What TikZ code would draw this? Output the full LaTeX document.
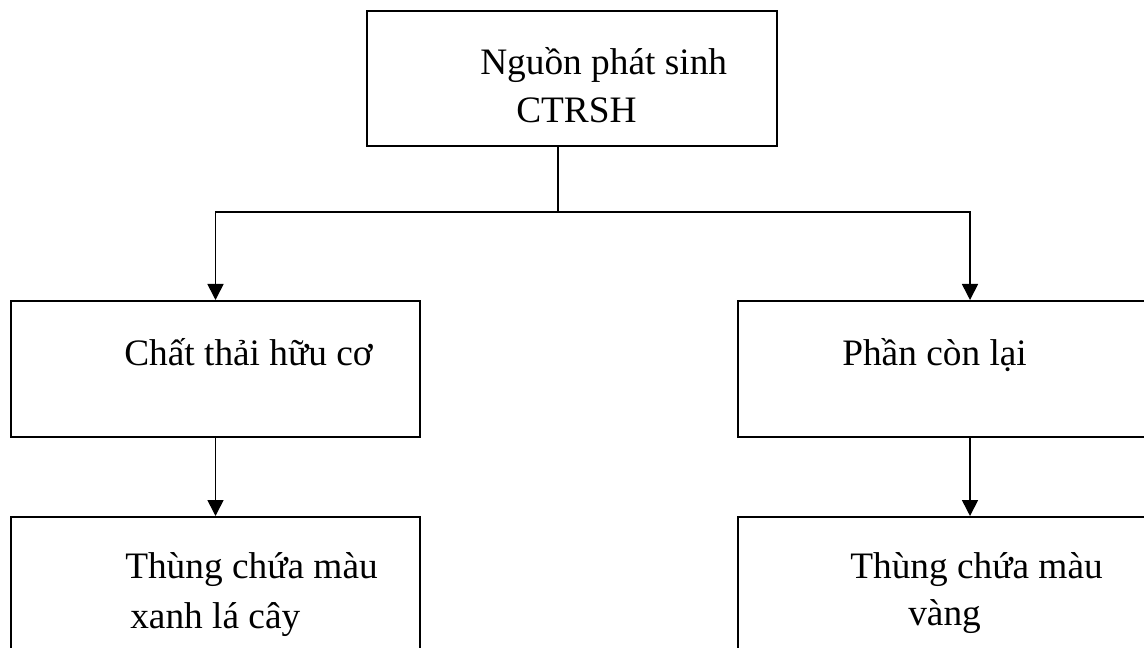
\documentclass[tikz,border=0pt]{standalone}
\usepackage{fontspec}
\setmainfont{Liberation Serif}
\usetikzlibrary{arrows.meta}
\begin{document}
\begin{tikzpicture}[x=0.75pt,y=-0.75pt,
  box/.style={draw=black, line width=1.5pt, rectangle, inner sep=0pt, anchor=north west},
  lbl/.style={anchor=base west, inner sep=0pt, font=\fontsize{28}{34}\selectfont},
  conn/.style={draw=black, line width=1.25pt},
  arr/.style={conn, -{Triangle[length=12pt,width=12pt]}}]
\useasboundingbox (0,0) rectangle (1144,648);
\clip (0,0) rectangle (1144,648);
\fill[white] (0,0) rectangle (1144,648);
% boxes
\node[box, minimum width=307.5pt, minimum height=101.25pt] (top) at (366,10) {};
\node[box, minimum width=306.75pt, minimum height=102pt] (org) at (10,300) {};
\node[box, minimum width=348pt, minimum height=102pt] (rest) at (737,300) {};
\node[box, minimum width=306.75pt, minimum height=130pt] (green) at (10,516) {};
\node[box, minimum width=348pt, minimum height=130pt] (yellow) at (737,516) {};
% texts
\node[lbl] (t1) at (480,75) {Nguồn phát sinh};
\node[lbl] (t2) at (516,123) {CTRSH};
\node[lbl] (t3) at (124,365) {Chất thải hữu cơ};
\node[lbl] (t4) at (842,365) {Phần còn lại};
\node[lbl] (t5) at (125,578) {Thùng chứa màu};
\node[lbl] (t6) at (130,628) {xanh lá cây};
\node[lbl] (t7) at (850,578) {Thùng chứa màu};
\node[lbl] (t8) at (908,625) {vàng};
% connectors
\coordinate (j) at (558,212);
\draw[conn] (top.south -| j) -- (j);
\draw[arr] (j) -| (org.north);
\draw[arr] (j) -| (rest.north);
\draw[arr] (org.south) -- (green.north);
\draw[arr] (rest.south) -- (yellow.north);
\end{tikzpicture}
\end{document}
